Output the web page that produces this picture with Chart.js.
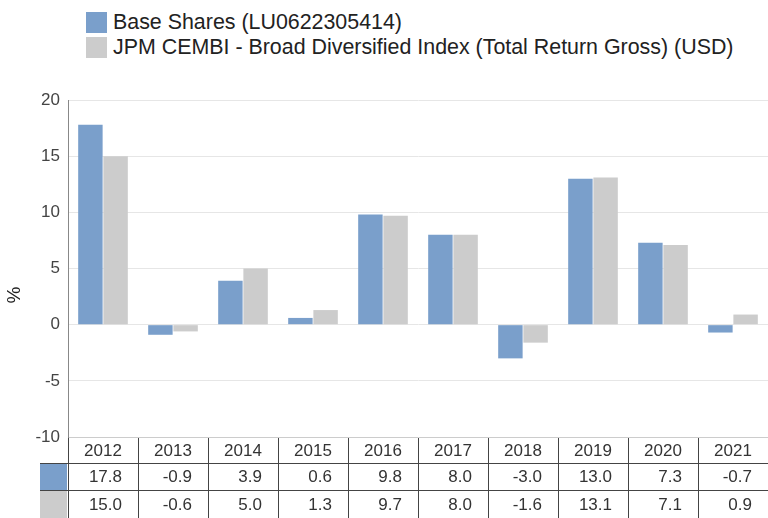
<!DOCTYPE html>
<html>
<head>
<meta charset="utf-8">
<script src="https://cdn.jsdelivr.net/npm/chart.js@4/dist/chart.umd.min.js"></script>
<style>
  html, body { margin:0; padding:0; background:#fff; }
  #wrap { position:relative; width:768px; height:518px; font-family:"Liberation Sans", Arial, sans-serif; }
  #legend { position:absolute; left:86px; top:10px; color:#222; font-size:21.4px; }
  .li { display:flex; align-items:center; height:25px; }
  .sw { width:21px; height:21px; margin-right:6px; flex:none; }
  canvas { position:absolute; left:0; top:0; }
</style>
</head>
<body>
<div id="wrap">
  <div id="legend"></div>
  <canvas id="chart" width="768" height="518"></canvas>
</div>
<script>
const years      = ['2012','2013','2014','2015','2016','2017','2018','2019','2020','2021'];
const baseShares = [17.8, -0.9, 3.9, 0.6, 9.8, 8.0, -3.0, 13.0, 7.3, -0.7];
const benchmark  = [15.0, -0.6, 5.0, 1.3, 9.7, 8.0, -1.6, 13.1, 7.1, 0.9];
const seriesNames = ['Base Shares (LU0622305414)', 'JPM CEMBI - Broad Diversified Index (Total Return Gross) (USD)'];
const yTitle = '%';
const colors = ['#7a9fcb', '#cccccc'];

// legend
document.getElementById('legend').innerHTML = seriesNames.map((n, i) =>
  `<div class="li"><span class="sw" style="background:${colors[i]}"></span>${n}</div>`).join('');

// data table under the x axis, plus the y title
const tablePlugin = {
  id: 'dataTable',
  afterDraw(chart) {
    const { ctx, chartArea, scales } = chart;
    const x = scales.x;
    const top = chartArea.bottom;
    const rowH = [26, 27, 28];
    const rows = [top, top + rowH[0], top + rowH[0] + rowH[1], top + rowH[0] + rowH[1] + rowH[2]];
    const colW = x.getPixelForValue(1) - x.getPixelForValue(0);
    const swLeft = 40;
    ctx.save();
    // swatches
    [baseShares, benchmark].forEach((_, i) => {
      ctx.fillStyle = colors[i];
      ctx.fillRect(swLeft, rows[i + 1] + 1, chartArea.left - swLeft - 1, rows[i + 2] - rows[i + 1] - 1);
    });
    ctx.strokeStyle = '#444';
    ctx.lineWidth = 1;
    ctx.beginPath();
    for (let r = 1; r <= 2; r++) {
      ctx.moveTo(swLeft, Math.round(rows[r]) + 0.5);
      ctx.lineTo(chartArea.right, Math.round(rows[r]) + 0.5);
    }
    for (let i = 0; i <= years.length; i++) {
      const px = Math.round(x.getPixelForValue(i) - colW / 2) + 0.5;
      ctx.moveTo(px, rows[0] + 1);
      ctx.lineTo(px, rows[3]);
    }
    ctx.stroke();
    ctx.fillStyle = '#333';
    ctx.font = '17px "Liberation Sans", Arial, sans-serif';
    ctx.textBaseline = 'middle';
    years.forEach((y, i) => {
      const cx = x.getPixelForValue(i);
      ctx.textAlign = 'center';
      ctx.fillText(y, cx, (rows[0] + rows[1]) / 2 + 1);
      ctx.textAlign = 'right';
      ctx.fillText(baseShares[i].toFixed(1), cx + colW / 2 - 16, (rows[1] + rows[2]) / 2 + 1);
      ctx.fillText(benchmark[i].toFixed(1), cx + colW / 2 - 16, (rows[2] + rows[3]) / 2 + 1);
    });
    // y title, centred over plot + table
    ctx.translate(15, (chartArea.top + rows[2]) / 2);
    ctx.rotate(-Math.PI / 2);
    ctx.textAlign = 'center';
    ctx.fillStyle = '#222';
    ctx.font = '19px "Liberation Sans", Arial, sans-serif';
    ctx.fillText(yTitle, 0, 0);
    ctx.restore();
  }
};

new Chart(document.getElementById('chart'), {
  type: 'bar',
  data: {
    labels: years,
    datasets: [
      { label: seriesNames[0], data: baseShares, backgroundColor: colors[0], borderWidth: 0 },
      { label: seriesNames[1], data: benchmark, backgroundColor: colors[1], borderWidth: 0 },
    ]
  },
  options: {
    responsive: false,
    animation: false,
    layout: { padding: { top: 100, bottom: 81, left: 4, right: 0 } },
    plugins: { legend: { display: false }, tooltip: { enabled: false } },
    datasets: { bar: { categoryPercentage: 0.72, barPercentage: 0.97 } },
    scales: {
      x: {
        ticks: { display: false },
        grid: { display: false, drawTicks: false },
        border: { display: false }
      },
      y: {
        min: -10, max: 20,
        ticks: { stepSize: 5, color: '#444', font: { size: 17, family: '"Liberation Sans", Arial, sans-serif' }, padding: 8 },
        grid: { color: ctx => ctx.tick.value === -10 ? '#cccccc' : '#e6e6e6', drawTicks: false },
        border: { color: '#888' },
        afterFit: s => { s.width = 64; }
      }
    }
  },
  plugins: [tablePlugin]
});
</script>
</body>
</html>
